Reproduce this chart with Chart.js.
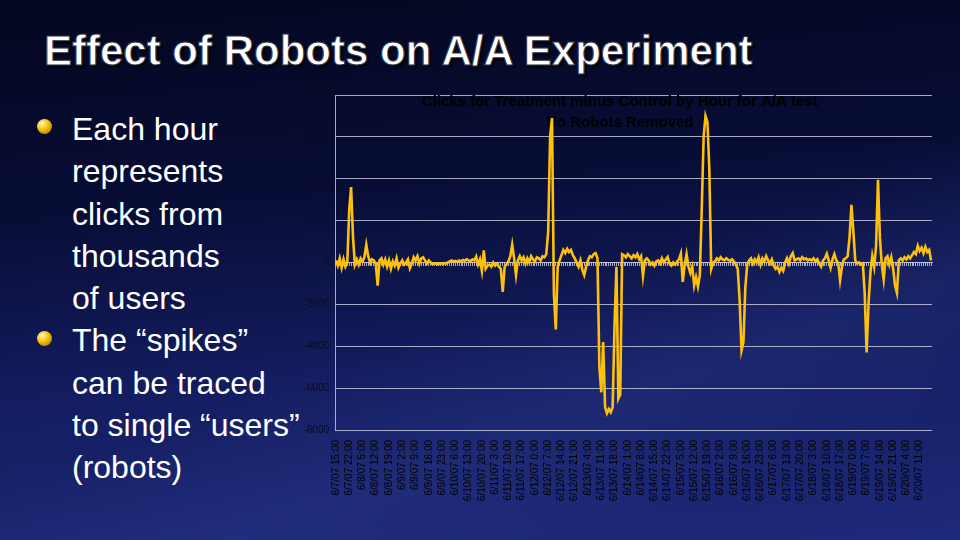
<!DOCTYPE html>
<html>
<head>
<meta charset="utf-8">
<script src="https://cdn.jsdelivr.net/npm/chart.js@4/dist/chart.umd.min.js"></script>
<style>
  html, body { margin: 0; padding: 0; }
  body {
    width: 960px; height: 540px; overflow: hidden; position: relative;
    font-family: 'Liberation Sans', Arial, sans-serif;
    background:
      linear-gradient(160deg, rgba(0,0,0,0) 55%, rgba(60,80,170,0.18) 70%, rgba(0,0,0,0) 85%),
      linear-gradient(175deg, #04071f 0%, #080d36 35%, #141d60 65%, #1e2a7a 100%);
  }
  .title {
    position: absolute; left: 44px; top: 30px;
    font-size: 42px; line-height: 42px; font-weight: bold; color: #fff;
    -webkit-text-stroke: 1px #30334a;
    text-shadow: 2px 2px 2px #000;
    white-space: nowrap;
  }
  .bullets {
    position: absolute; left: 72px; top: 108px;
    font-size: 32px; line-height: 42.3px; color: #fff; margin: 0; padding: 0;
  }
  .dot {
    position: absolute; left: 37px; width: 15px; height: 15px; border-radius: 50%;
    background: radial-gradient(circle at 35% 30%, #fff6c0 0%, #f5c000 45%, #8a6400 100%);
  }
  #wrap { position: absolute; left: 280px; top: 80px; width: 660px; height: 460px; }
</style>
</head>
<body>
<div class="title">Effect of Robots on A/A Experiment</div>
<div class="dot" style="top:119px"></div>
<div class="dot" style="top:331px"></div>
<div class="bullets">Each hour<br>represents<br>clicks from<br>thousands<br>of users<br>The “spikes”<br>can be traced<br>to single “users”<br>(robots)</div>
<div id="wrap"><canvas id="chart"></canvas></div>
<script>
// Clicks for Treatment minus Control, one value per hour from 6/7/07 15:00
const clicks = [
  100, -150, 200, -250, 150, -200, 0, 2500, 3600, 1200,
  -100, 150, -100, 200, 50, 250, 850, 300, 0, 150,
  100, -50, -1100, 100, 200, -100, 150, -200, 100, -300,
  50, -150, 200, -250, -50, 100, -100, 0, 150, -280,
  -50, 250, 100, 300, -50, 200, 250, 100, -50, 100,
  0, -80, -50, -60, -100, -40, -60, -30, -50, 0,
  50, 100, 50, 80, 30, 100, 60, 120, 80, 150,
  100, 50, 150, 100, 280, -100, 150, -400, 580, -300,
  -150, -100, -200, 0, -150, -50, -200, -300, -1400, -200,
  -100, 50, 300, 850, 200, -600, 100, 300, 100, 250,
  -50, 200, 0, 300, 150, 50, 250, 200, 100, 300,
  250, 400, 1500, 6000, 6900, -1500, -3200, -200, 100, 350,
  600, 450, 650, 500, 600, 350, 200, 0, -200, 100,
  -350, -600, -200, 100, 300, 250, 400, 450, 200, -5000,
  -6200, -3800, -6900, -7200, -7000, -7150, -6900, -3000, -200, -6500,
  -6300, 400, 350, 250, 400, 300, 200, 350, 250, 400,
  150, 300, -650, 100, 200, 100, -100, 0, -150, 50,
  100, -50, 200, 0, 150, 270, -50, -150, 0, -100,
  50, 150, 430, -930, -100, 400, -200, -500, -200, -1100,
  -700, -1150, -600, 2500, 6000, 7000, 6700, 4500, -300, 0,
  50, 200, 100, 250, 150, 100, 200, 120, 80, 150,
  50, -100, -300, -1800, -4200, -3800, -1200, -100, 100, 200,
  -50, 150, 0, 250, -100, 200, 50, 300, 100, -50,
  150, -150, -300, -200, -450, -250, -400, 0, 200, -50,
  300, 450, 100, 150, 200, 100, 250, 150, 200, 100,
  150, 100, 200, 50, 150, -50, -200, 100, 200, 420,
  100, -250, 150, 400, 100, 0, -850, -200, 150, 200,
  300, 1200, 2750, 1500, 100, -50, 0, -100, -50, -1500,
  -4300, -2000, -500, 300, -200, 800, 3950, 1200, -100, -800,
  200, 300, -100, 250, -300, -1100, -1450, 100, 200, 100,
  250, 150, 300, 200, 350, 500, 400, 800, 550, 700,
  450, 750, 500, 600, 100,
];

// every 7th hour gets a label on the category axis
const tickLabels = [
  '6/7/07 15:00', '6/7/07 22:00', '6/8/07 5:00', '6/8/07 12:00', '6/8/07 19:00',
  '6/9/07 2:00', '6/9/07 9:00', '6/9/07 16:00', '6/9/07 23:00', '6/10/07 6:00',
  '6/10/07 13:00', '6/10/07 20:00', '6/11/07 3:00', '6/11/07 10:00', '6/11/07 17:00',
  '6/12/07 0:00', '6/12/07 7:00', '6/12/07 14:00', '6/12/07 21:00', '6/13/07 4:00',
  '6/13/07 11:00', '6/13/07 18:00', '6/14/07 1:00', '6/14/07 8:00', '6/14/07 15:00',
  '6/14/07 22:00', '6/15/07 5:00', '6/15/07 12:00', '6/15/07 19:00', '6/16/07 2:00',
  '6/16/07 9:00', '6/16/07 16:00', '6/16/07 23:00', '6/17/07 6:00', '6/17/07 13:00',
  '6/17/07 20:00', '6/18/07 3:00', '6/18/07 10:00', '6/18/07 17:00', '6/19/07 0:00',
  '6/19/07 7:00', '6/19/07 14:00', '6/19/07 21:00', '6/20/07 4:00', '6/20/07 11:00',
];
const labelEvery = 7;

const chartTitle = ['Clicks for Treatment minus Control by Hour for A/A test', 'No Robots Removed'];

const GRID = 'rgba(196,198,222,0.85)';
const FONT = "'Liberation Sans', Arial, sans-serif";

const labels = clicks.map((_, i) => (i % labelEvery === 0 ? tickLabels[i / labelEvery] : ''));

// chart title sits inside the plot, under the line
const titlePlugin = {
  id: 'innerTitle',
  beforeDatasetsDraw(chart) {
    const { ctx, chartArea } = chart;
    const cx = chartArea.left + (chartArea.right - chartArea.left) * 0.477;
    ctx.save();
    ctx.fillStyle = '#000';
    ctx.font = 'bold 15px ' + FONT;
    ctx.textAlign = 'center';
    ctx.textBaseline = 'middle';
    chartTitle.forEach((t, k) => ctx.fillText(t, cx, chartArea.top + 7 + k * 21));
    ctx.restore();
  },
};

Chart.defaults.font.family = FONT;
Chart.defaults.animation = false;

new Chart(document.getElementById('chart').getContext('2d'), {
  type: 'line',
  data: {
    labels,
    datasets: [{
      data: clicks,
      borderColor: '#fdc00c',
      borderWidth: 2.6,
      pointRadius: 0,
      tension: 0,
      fill: false,
    }],
  },
  options: {
    responsive: true,
    maintainAspectRatio: false,
    layout: { padding: { top: 15, right: 8, left: 0, bottom: 0 } },
    plugins: { legend: { display: false }, tooltip: { enabled: false } },
    scales: {
      x: {
        offset: true,
        grid: { display: false },
        border: { display: false },
        ticks: {
          autoSkip: false,
          minRotation: 90,
          maxRotation: 90,
          padding: 2,
          color: '#000',
          font: { size: 10 },
          callback: (v, i) => labels[i] || null,
        },
        afterFit: (s) => { s.height = 110; },
      },
      xz: {
        type: 'category',
        offset: true,
        position: { y: 0 },
        grid: { drawOnChartArea: false, drawTicks: true, tickLength: 3, color: GRID, lineWidth: 1 },
        border: { display: true, color: GRID },
        ticks: { display: false },
      },
      y: {
        min: -8000,
        max: 8000,
        grid: { color: GRID, lineWidth: 1, drawTicks: false },
        border: { display: true, color: GRID },
        ticks: {
          stepSize: 2000,
          padding: 6,
          color: '#0b0c22',
          font: { size: 10 },
          callback: (v) => String(v),
        },
        afterFit: (s) => { s.width = 55; },
      },
    },
  },
  plugins: [titlePlugin],
});
</script>
</body>
</html>
